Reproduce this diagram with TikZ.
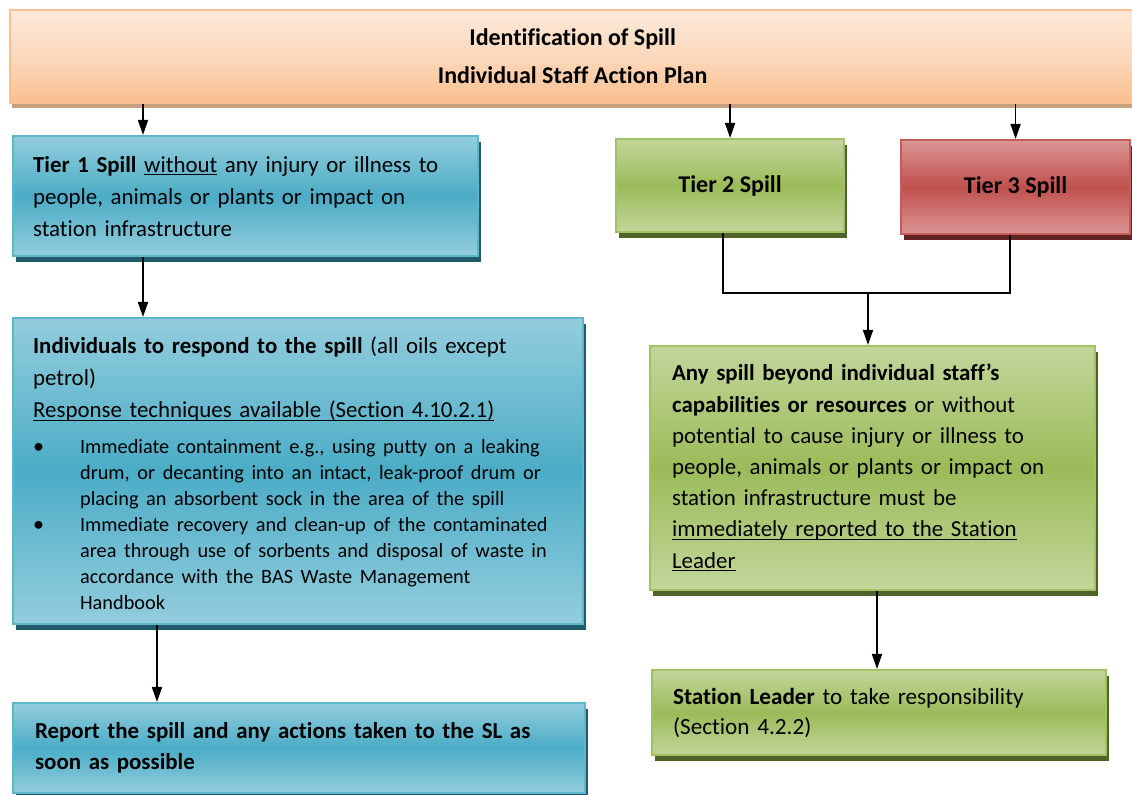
\documentclass[tikz,border=0pt]{standalone}
\usepackage{fontspec}
\setmainfont{Carlito}[Ligatures=CommonOff]
\usetikzlibrary{arrows.meta, shadows}

\definecolor{blueTop}{HTML}{93CDDD}
\definecolor{blueMid}{HTML}{4BACC6}
\definecolor{blueEdge}{HTML}{5EB6CD}
\definecolor{blueShadow}{HTML}{215A69}
\definecolor{greenTop}{HTML}{C3D69B}
\definecolor{greenMid}{HTML}{9BBB59}
\definecolor{greenEdge}{HTML}{A2C064}
\definecolor{greenShadow}{HTML}{4F6228}
\definecolor{redTop}{HTML}{DA9694}
\definecolor{redMid}{HTML}{C0504D}
\definecolor{redEdge}{HTML}{C65C59}
\definecolor{redShadow}{HTML}{632523}
\definecolor{orangeLight}{HTML}{FDE9D9}
\definecolor{orangeDark}{HTML}{F9BF8F}
\definecolor{orangeShadow}{HTML}{C9A07E}

\newcommand{\spillul}[1]{\underline{\smash{#1}}}
\newcommand{\spillitem}[1]{\par\noindent\makebox[23.5pt][l]{{\fontsize{11}{11}\selectfont\textbullet}}%
    \parbox[t]{241.5pt}{\raggedright #1\strut}\par\prevdepth=\dp\strutbox}

\tikzset{
    panel/.style = {draw, line width=1.1pt, anchor=north west, inner ysep=0pt, align=left,
        font=\fontsize{11.45}{16}\selectfont},
    blue panel/.style = {panel, draw=blueEdge, top color=blueTop, bottom color=blueTop, middle color=blueMid,
        drop shadow={shadow xshift=1.5pt, shadow yshift=-2.8pt, fill=blueShadow, opacity=1}},
    green panel/.style = {panel, draw=greenEdge, top color=greenTop, bottom color=greenTop, middle color=greenMid,
        drop shadow={shadow xshift=1.5pt, shadow yshift=-2.8pt, fill=greenShadow, opacity=1}},
    red panel/.style = {panel, draw=redEdge, top color=redTop, bottom color=redTop, middle color=redMid,
        drop shadow={shadow xshift=1.5pt, shadow yshift=-2.8pt, fill=redShadow, opacity=1}},
    title panel/.style = {panel, draw=orangeDark, top color=orangeLight, bottom color=orangeDark,
        middle color=orangeLight!60!orangeDark, align=center, font=\fontsize{12}{19}\selectfont,
        drop shadow={shadow xshift=1pt, shadow yshift=-2.5pt, fill=orangeShadow, opacity=1}},
    arrow/.style = {-{Triangle[length=7.5pt, width=5pt]}, line width=0.8pt},
    link/.style = {line width=0.8pt}
}

\begin{document}
\begin{tikzpicture}[x=0.5pt, y=-0.5pt]
    \clip (0,0) rectangle (1132,795);

    %title
    \node[title panel, minimum width=562.5pt, minimum height=46.5pt] (title) at (9,9)
        {\textbf{Identification of Spill}\\ \textbf{Individual Staff Action Plan}};

    %left column
    \node[blue panel, minimum width=232.5pt, minimum height=60pt, text width=212.5pt, inner xsep=10pt] (tier1) at (12,135)
        {\textbf{Tier 1 Spill} \spillul{without} any injury or illness to\\
         people, animals or plants or impact on\\
         station infrastructure};
    \node[blue panel, minimum width=285pt, minimum height=153pt, text width=265pt, inner xsep=10pt] (respond) at (12,317)
        {\rule{0pt}{14.6pt}\textbf{Individuals to respond to the spill} (all oils except\\
         petrol)\\
         \spillul{Response techniques available (Section 4.10.2.1)}\par
         \vspace{5pt}
         {\fontsize{10.15}{13}\selectfont
         \spillitem{Immediate containment e.g., using putty on a leaking\\
            drum, or decanting into an intact, leak-proof drum or\\
            placing an absorbent sock in the area of the spill}
         \spillitem{Immediate recovery and clean-up of the contaminated\\
            area through use of sorbents and disposal of waste in\\
            accordance with the BAS Waste Management\\
            Handbook}}};
    \node[blue panel, minimum width=285pt, minimum height=45pt, text width=264pt, inner xsep=11pt,
        font=\fontsize{11.45}{15.5}\selectfont] (report) at (12,702)
        {\textbf{Report the spill and any actions taken to the SL as}\\
         \textbf{soon as possible}};

    %right column
    \node[green panel, minimum width=114pt, minimum height=46.5pt, align=center, font=\fontsize{12}{14}\selectfont] (tier2) at (615,138)
        {\textbf{Tier 2 Spill}};
    \node[red panel, minimum width=114.5pt, minimum height=47pt, align=center, font=\fontsize{12}{14}\selectfont] (tier3) at (900,139)
        {\textbf{Tier 3 Spill}};
    \node[green panel, minimum width=222.5pt, minimum height=122pt, text width=200.5pt, inner xsep=11pt,
        font=\fontsize{11.45}{15.6}\selectfont] (beyond) at (649,345)
        {\textbf{Any spill beyond individual staff’s}\\
         \textbf{capabilities or resources} or without\\
         potential to cause injury or illness to\\
         people, animals or plants or impact on\\
         station infrastructure must be\\
         \spillul{immediately reported to the Station}\\
         \spillul{Leader}};
    \node[green panel, minimum width=227pt, minimum height=42.5pt, text width=206pt, inner xsep=10.5pt,
        font=\fontsize{11.6}{15}\selectfont] (leader) at (651,669)
        {\textbf{Station Leader} to take responsibility\\
         (Section 4.2.2)};

    %connectors
    \coordinate (c1) at (143,0);
    \coordinate (c2) at (157,0);
    \coordinate (c3) at (723,0);
    \coordinate (c4) at (1010,0);
    \coordinate (j) at (868,293);
    \coordinate (c5) at (877,0);

    \draw[arrow] (title.south -| c1) -- (tier1.north -| c1);
    \draw[arrow] (title.south -| tier2.north) -- (tier2.north);
    \draw[arrow] (title.south -| tier3.north) -- (tier3.north);
    \draw[arrow] (tier1.south -| c1) -- (respond.north -| c1);
    \draw[arrow] (respond.south -| c2) -- (report.north -| c2);
    \draw[link] (tier2.south -| c3) |- (j -| c4) -- (tier3.south -| c4);
    \draw[arrow] (j) -- (beyond.north -| j);
    \draw[arrow] (beyond.south -| c5) -- (leader.north -| c5);
\end{tikzpicture}
\end{document}
